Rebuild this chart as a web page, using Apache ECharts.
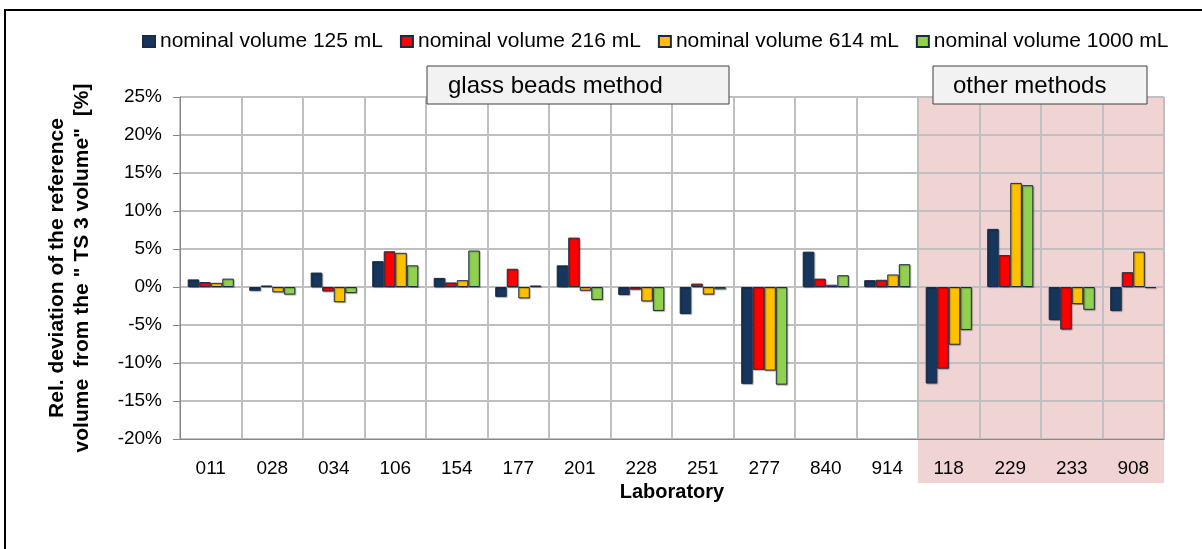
<!DOCTYPE html>
<html>
<head>
<meta charset="utf-8">
<script src="https://cdn.jsdelivr.net/npm/echarts@6/dist/echarts.min.js"></script>
<style>
  html, body { margin: 0; padding: 0; background: #fff; }
  #chart { width: 1202px; height: 549px; }
</style>
</head>
<body>
<div id="chart"></div>
<script>
// laboratories, glass beads first, then the "other methods" block
const labs = ['011', '028', '034', '106', '154', '177', '201', '228', '251', '277', '840', '914', '118', '229', '233', '908'];
const otherLabs = ['118', '229', '233', '908'];

// relative deviation in %
const v125 = [1.0, -0.5, 1.9, 3.4, 1.2, -1.3, 2.85, -1.05, -3.55, -12.75, 4.65, 0.9, -12.7, 7.65, -4.35, -3.15];
const v216 = [0.65, 0.2, -0.6, 4.7, 0.6, 2.4, 6.5, -0.35, 0.45, -10.9, 1.1, 0.95, -10.75, 4.2, -5.6, 1.95];
const v614 = [0.55, -0.7, -2.0, 4.5, 0.9, -1.5, -0.5, -1.9, -1.0, -11.0, 0.3, 1.65, -7.6, 13.7, -2.25, 4.65];
const v1000 = [1.1, -1.0, -0.8, 2.85, 4.8, 0.2, -1.7, -3.15, -0.3, -12.85, 1.55, 3.0, -5.65, 13.4, -3.0, -0.15];

const seriesNames = ['nominal volume 125 mL', 'nominal volume 216 mL', 'nominal volume 614 mL', 'nominal volume 1000 mL'];
const colors = ['#17365d', '#ff0000', '#ffc000', '#92d050'];
const font = 'Liberation Sans, Arial, sans-serif';

const chart = echarts.init(document.getElementById('chart'));

function bar(name, data, color) {
  return {
    name: name,
    type: 'bar',
    data: data,
    barGap: '0%',
    barCategoryGap: '25%',
    itemStyle: {
      color: color,
      borderColor: '#1c2b45',
      borderWidth: 1,
      shadowColor: 'rgba(0,0,0,0.25)',
      shadowOffsetX: 1,
      shadowOffsetY: 1,
      shadowBlur: 1
    }
  };
}

chart.setOption({
  animation: false,
  textStyle: { fontFamily: font },
  legend: {
    top: 26,
    left: 137,
    itemWidth: 12,
    itemHeight: 11,
    itemGap: 17,
    icon: 'rect',
    textStyle: { fontSize: 21, color: '#000', fontFamily: font }
  },
  grid: { left: 180, right: 38, top: 97, bottom: 110 },
  xAxis: {
    type: 'category',
    data: labs,
    name: 'Laboratory',
    nameLocation: 'middle',
    nameGap: 35,
    nameTextStyle: { fontSize: 20, fontWeight: 'bold', color: '#000', fontFamily: font },
    axisLine: { onZero: false, lineStyle: { color: '#868686', width: 1 } },
    axisTick: { show: false },
    axisLabel: { fontSize: 19, color: '#000', margin: 20, fontFamily: font },
    splitLine: { show: true, lineStyle: { color: '#c0c0c0', width: 2 } }
  },
  yAxis: {
    type: 'value',
    min: -20,
    max: 25,
    interval: 5,
    name: 'Rel. deviation of the reference\nvolume  from the " TS 3 volume"  [%]',
    nameLocation: 'middle',
    nameGap: 85,
    nameTextStyle: { fontSize: 21, fontWeight: 'bold', color: '#000', lineHeight: 25, fontFamily: font },
    axisLine: { show: true, lineStyle: { color: '#868686', width: 1 } },
    axisTick: { show: true, length: 7, lineStyle: { color: '#868686' } },
    axisLabel: { formatter: '{value}%', fontSize: 19, color: '#000', margin: 18, fontFamily: font },
    splitLine: { lineStyle: { color: '#c0c0c0', width: 2 } }
  },
  series: [
    bar(seriesNames[0], v125, colors[0]),
    bar(seriesNames[1], v216, colors[1]),
    bar(seriesNames[2], v614, colors[2]),
    bar(seriesNames[3], v1000, colors[3])
  ]
});

// shaded block behind the "other methods" labs, plus the two method boxes and the frame
const c0 = chart.convertToPixel({ xAxisIndex: 0 }, otherLabs[0]);
const c1 = chart.convertToPixel({ xAxisIndex: 0 }, otherLabs[1]);
const cLast = chart.convertToPixel({ xAxisIndex: 0 }, otherLabs[otherLabs.length - 1]);
const band = c1 - c0;
const yTop = chart.convertToPixel({ yAxisIndex: 0 }, 25);
const yBot = chart.convertToPixel({ yAxisIndex: 0 }, -20);

function box(x, y, w, h, text, tx) {
  return {
    type: 'group',
    z: 100,
    children: [
      { type: 'rect', shape: { x: x, y: y, width: w, height: h },
        style: { fill: '#f2f2f2', stroke: '#404040', lineWidth: 1 } },
      { type: 'text', x: tx, y: y + h / 2 + 1,
        style: { text: text, fontSize: 24, fill: '#000', fontFamily: font, verticalAlign: 'middle' } }
    ]
  };
}

chart.setOption({
  graphic: [
    { type: 'rect', z: -10, silent: true,
      shape: { x: c0 - band / 2, y: yTop, width: cLast - c0 + band, height: yBot - yTop + 44 },
      style: { fill: '#f0d4d4' } },
    { type: 'polyline', z: 100, silent: true,
      shape: { points: [[5, 560], [5, 10], [1210, 10]] },
      style: { stroke: '#000', lineWidth: 2, fill: null } },
    box(427, 66, 302, 38, 'glass beads method', 448),
    box(933, 66, 214, 38, 'other methods', 953)
  ]
});
</script>
</body>
</html>
